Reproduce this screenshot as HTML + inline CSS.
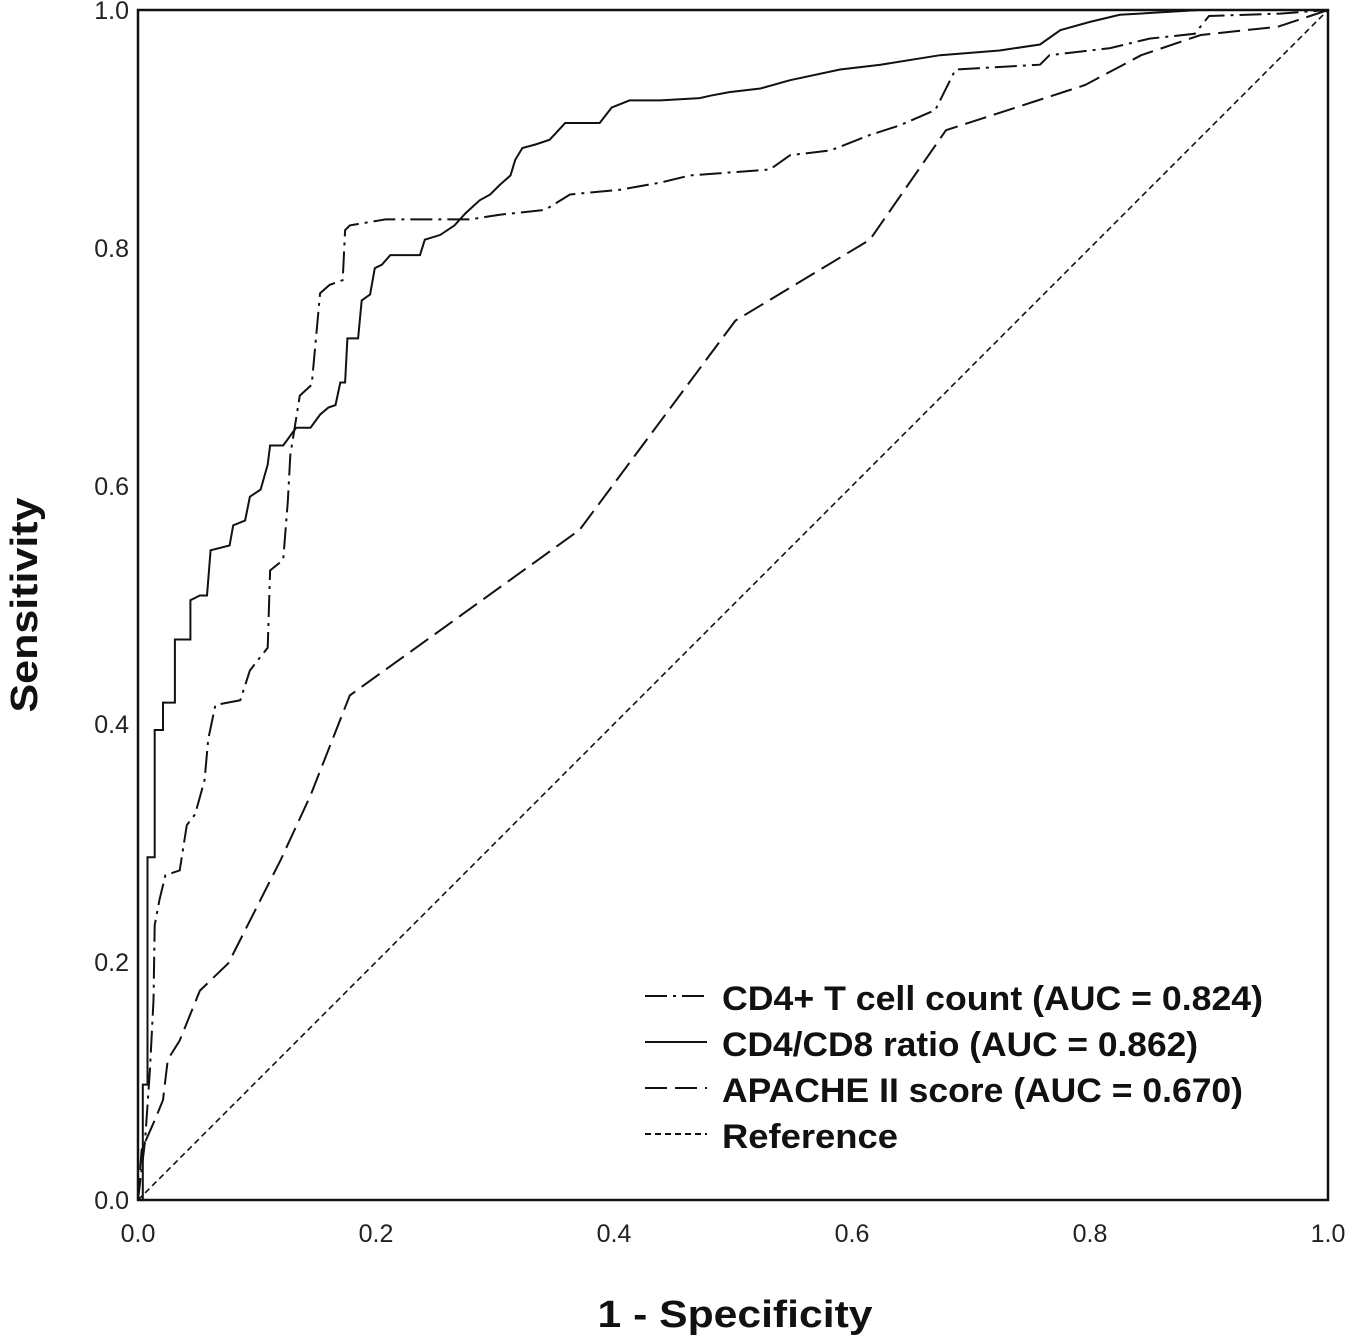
<!DOCTYPE html>
<html><head><meta charset="utf-8"><style>
html,body{margin:0;padding:0;background:#fff;}
svg{display:block;}
text{font-family:"Liberation Sans Narrow","Liberation Sans",sans-serif;fill:#111;}
.tick{font-family:"Liberation Sans",sans-serif;font-size:25px;fill:#222;}
</style></head><body>
<svg id="chart" width="1350" height="1341" viewBox="0 0 1350 1341" xmlns="http://www.w3.org/2000/svg">
<g id="plot"></g>
<g id="axes"></g>
<g id="legend"></g>
</svg>
<script>
const xTicks = ["0.0","0.2","0.4","0.6","0.8","1.0"];
const yTicks = ["0.0","0.2","0.4","0.6","0.8","1.0"];
const ratioFpr = [0,.004,.004,.008,.008,.014,.014,.021,.021,.031,.031,.044,.044,.052,.058,.061,.077,.080,.090,.094,.103,.109,.111,.122,.130,.133,.145,.153,.160,.166,.170,.174,.176,.185,.188,.195,.199,.205,.212,.237,.241,.254,.266,.275,.287,.296,.304,.313,.317,.323,.334,.346,.359,.388,.398,.413,.439,.472,.481,.497,.523,.548,.590,.624,.674,.724,.758,.775,.800,.825,.892,1];
const ratioTpr = [0,0,.097,.097,.288,.288,.395,.395,.418,.418,.471,.471,.504,.508,.508,.546,.550,.567,.571,.591,.597,.618,.634,.634,.645,.649,.649,.660,.666,.668,.687,.687,.724,.724,.756,.761,.783,.786,.794,.794,.807,.811,.819,.829,.840,.845,.853,.861,.874,.884,.887,.891,.905,.905,.918,.924,.924,.926,.928,.931,.934,.941,.950,.954,.962,.966,.971,.983,.990,.996,1,1];
const cd4Fpr = [0,.006,.010,.013,.014,.018,.023,.035,.041,.048,.056,.059,.065,.086,.094,.101,.109,.111,.122,.126,.128,.136,.146,.153,.161,.172,.174,.178,.208,.279,.304,.342,.363,.405,.439,.464,.531,.548,.582,.615,.640,.670,.687,.758,.766,.817,.850,.888,.900,.960,1];
const cd4Tpr = [0,.050,.109,.168,.231,.252,.273,.277,.315,.324,.353,.387,.416,.420,.445,.454,.464,.529,.538,.588,.626,.676,.685,.762,.769,.773,.815,.819,.824,.824,.828,.832,.845,.849,.855,.861,.866,.878,.882,.895,.903,.916,.950,.954,.962,.968,.976,.980,.995,.997,1];
const apFpr = [0,.003,.014,.021,.025,.035,.052,.076,.120,.145,.178,.371,.502,.615,.679,.796,.843,.893,.958,1];
const apTpr = [0,.042,.067,.084,.118,.134,.176,.199,.286,.340,.424,.563,.739,.807,.899,.937,.962,.979,.986,1];
const refFpr = [0,1];
const refTpr = [0,1];

const X0=138,X1=1328,Y0=1200,Y1=10;
const sx=v=>X0+v*(X1-X0);
const sy=v=>Y0-v*(Y0-Y1);
const NS="http://www.w3.org/2000/svg";
const mk=(t,a,p)=>{const e=document.createElementNS(NS,t);for(const k in a)e.setAttribute(k,a[k]);p.appendChild(e);return e;};
const plot=document.getElementById('plot'),axes=document.getElementById('axes'),legend=document.getElementById('legend');

function line(fx,ty,dash,w,name){
  const pts=fx.map((f,i)=>sx(f).toFixed(1)+','+sy(ty[i]).toFixed(1)).join(' ');
  const e=mk('polyline',{points:pts,fill:'none',stroke:'#111','stroke-width':w,'stroke-dasharray':dash,'stroke-linejoin':'miter'},plot);
  
  
}
line(refFpr,refTpr,'6,4',1.6,'reference-line');
line(apFpr,apTpr,'22,8',2,'apache-ii-curve');
line(cd4Fpr,cd4Tpr,'22,6,3,6',2,'cd4-t-cell-curve');
line(ratioFpr,ratioTpr,'',2,'cd4-cd8-ratio-curve');

const fr=mk('rect',{x:X0,y:Y1,width:X1-X0,height:Y0-Y1,fill:'none',stroke:'#111','stroke-width':2.5},axes);


xTicks.forEach((t,i)=>{const e=mk('text',{x:sx(i/5),y:1242,'text-anchor':'middle',class:'tick'},axes);e.textContent=t;
  
  });
yTicks.forEach((t,i)=>{const e=mk('text',{x:129,y:sy(i/5)+9,'text-anchor':'end',class:'tick'},axes);e.textContent=t;
  
  });
const xt=mk('text',{x:735,y:1327,'text-anchor':'middle','font-size':38,'font-weight':'bold',textLength:275,lengthAdjust:'spacingAndGlyphs'},axes);
xt.textContent='1 - Specificity';


const yt=mk('text',{x:0,y:0,'text-anchor':'middle','font-size':38,'font-weight':'bold',textLength:215,lengthAdjust:'spacingAndGlyphs',transform:'translate(37,605) rotate(-90)'},axes);
yt.textContent='Sensitivity';



const leg=[["CD4+ T cell count (AUC = 0.824)",'22,6,3,6',541],["CD4/CD8 ratio (AUC = 0.862)",'',476],["APACHE II score (AUC = 0.670)",'22,8',521],["Reference",'6,4',176]];
const legNames=['legend-cd4-t-cell','legend-cd4-cd8-ratio','legend-apache-ii','legend-reference'];
leg.forEach((l,i)=>{
  const y=1006+i*46;
  const g=mk('g',{},legend);
  
  
  mk('line',{x1:645,y1:y-10,x2:707,y2:y-10,stroke:'#111','stroke-width':2,'stroke-dasharray':l[1]},g);
  const t=mk('text',{x:722,y:y+4,'font-size':34,'font-weight':'bold',textLength:l[2],lengthAdjust:'spacingAndGlyphs'},g);
  t.textContent=l[0];
});
</script>
</body></html>
